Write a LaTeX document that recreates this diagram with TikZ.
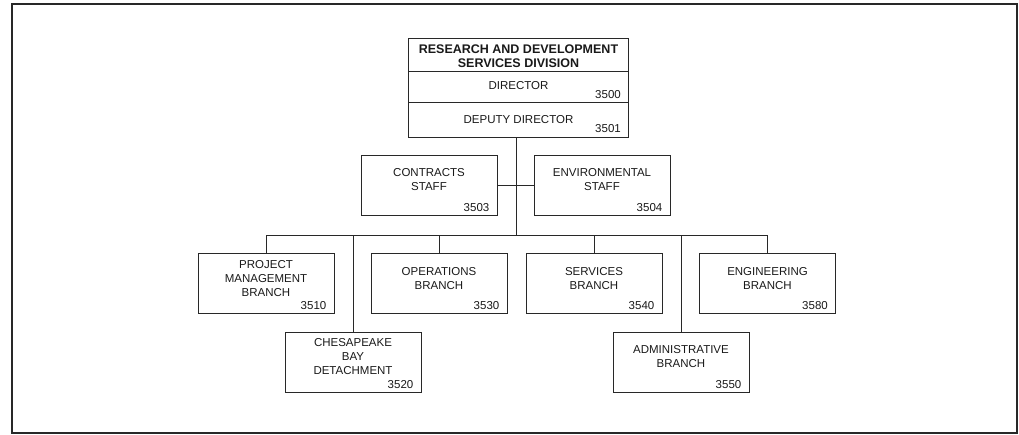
\documentclass[tikz,border=0pt]{standalone}
\usepackage{fontspec}
\setmainfont{Liberation Sans}
\usetikzlibrary{calc}
\definecolor{ink}{RGB}{40,40,40}
\definecolor{txt}{RGB}{25,25,25}
\begin{document}
\begin{tikzpicture}[x=1pt,y=-1pt,
  box/.style={draw=ink, line width=1pt, minimum width=136pt, minimum height=60pt, inner sep=0pt},
  topbox/.style={draw=ink, line width=1pt, minimum width=220pt, inner sep=0pt},
  lbl/.style={text=txt, align=center, inner sep=0pt, font=\fontsize{11.5}{14}\selectfont},
  ttl/.style={text=txt, align=center, inner sep=0pt, font=\bfseries\fontsize{12.5}{14.3}\selectfont},
  num/.style={text=txt, inner sep=0pt, anchor=base east, font=\fontsize{11.5}{14}\selectfont},
  wire/.style={draw=ink, line width=1pt},
  framebox/.style={draw=ink, line width=1.5pt, minimum width=1005pt, minimum height=429pt, inner sep=0pt}]
\useasboundingbox (0,0) rectangle (1019,434);
\node[framebox] (frame) at (514.5,218.5) {};

% top box
\node[topbox, minimum height=33pt] (title) at (518.5,54.5) {};
\node[topbox, minimum height=31.5pt] (dir) at (518.5,86.75) {};
\node[topbox, minimum height=34.5pt] (dep) at (518.5,119.75) {};
\node[ttl] (titlet) at ($(title.center)+(0,1.5)$) {RESEARCH AND DEVELOPMENT\\SERVICES DIVISION};
\node[lbl] (dirt) at ($(dir.center)+(0,-1.5)$) {DIRECTOR};
\node[num] (dirn) at ($(dir.south east)+(-8,-5)$) {3500};
\node[lbl] (dept) at ($(dep.center)+(0,-0.5)$) {DEPUTY DIRECTOR};
\node[num] (depn) at ($(dep.south east)+(-8,-5)$) {3501};

% staff
\node[box] (con) at (429,185) {};
\node[lbl] (cont) at ($(con.center)+(0,-5)$) {CONTRACTS\\STAFF};
\node[num] (conn) at ($(con.south east)+(-8,-4.5)$) {3503};
\node[box] (env) at (602,185) {};
\node[lbl] (envt) at ($(env.center)+(0,-5)$) {ENVIRONMENTAL\\STAFF};
\node[num] (envn) at ($(env.south east)+(-8,-4.5)$) {3504};

% branches
\node[box] (pm) at (266,283) {};
\node[lbl] (pmt) at ($(pm.center)+(0,-4)$) {PROJECT\\MANAGEMENT\\BRANCH};
\node[num] (pmn) at ($(pm.south east)+(-8,-4.5)$) {3510};
\node[box] (ops) at (439,283) {};
\node[lbl] (opst) at ($(ops.center)+(0,-4)$) {OPERATIONS\\BRANCH};
\node[num] (opsn) at ($(ops.south east)+(-8,-4.5)$) {3530};
\node[box] (srv) at (594,283) {};
\node[lbl] (srvt) at ($(srv.center)+(0,-4)$) {SERVICES\\BRANCH};
\node[num] (srvn) at ($(srv.south east)+(-8,-4.5)$) {3540};
\node[box] (eng) at (767.5,283) {};
\node[lbl] (engt) at ($(eng.center)+(0,-4)$) {ENGINEERING\\BRANCH};
\node[num] (engn) at ($(eng.south east)+(-8,-4.5)$) {3580};
\node[box] (ches) at (353,362.5) {};
\node[lbl] (chest) at ($(ches.center)+(0,-6)$) {CHESAPEAKE\\BAY\\DETACHMENT};
\node[num] (chesn) at ($(ches.south east)+(-8,-4.5)$) {3520};
\node[box] (adm) at (681,362.5) {};
\node[lbl] (admt) at ($(adm.center)+(0,-6)$) {ADMINISTRATIVE\\BRANCH};
\node[num] (admn) at ($(adm.south east)+(-8,-4.5)$) {3550};

% connectors
\coordinate (trunk) at (516,235);
\draw[wire] (dep.south -| trunk) -- (trunk);
\draw[wire] (con.east) -- (env.west);
\draw[wire] (pm.north) -- (pm.north |- trunk) -- (eng.north |- trunk) -- (eng.north);
\foreach \n in {ops,srv,ches,adm}
  \draw[wire] (\n.north) -- (\n.north |- trunk);
\end{tikzpicture}
\end{document}
